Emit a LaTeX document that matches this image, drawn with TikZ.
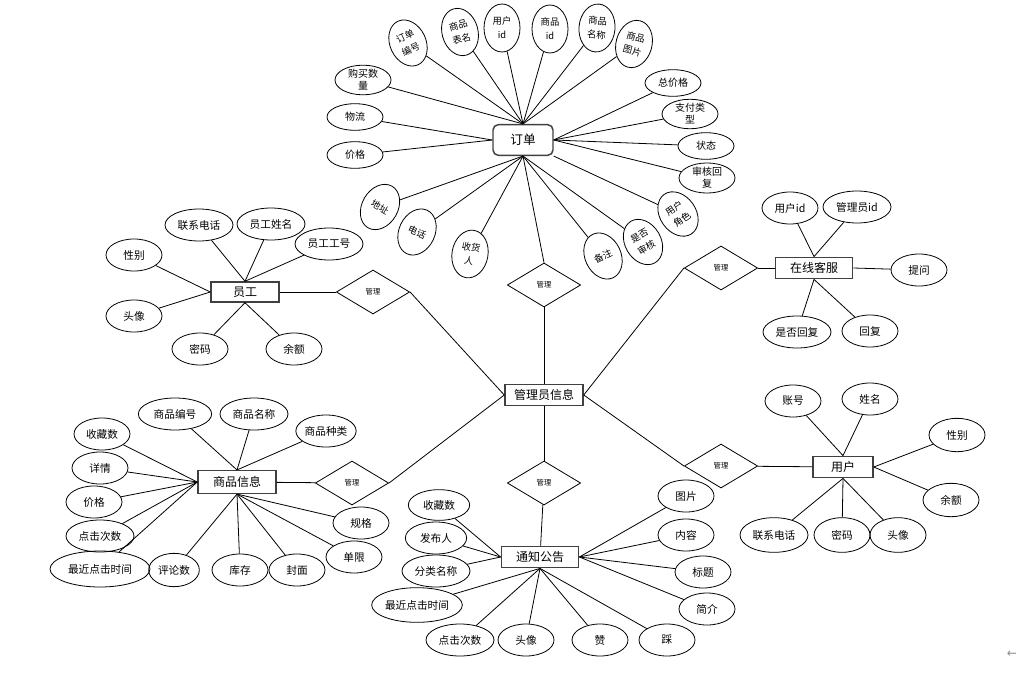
\documentclass[tikz,border=0pt]{standalone}
\usepackage{fontspec}
\setmainfont{Noto Sans CJK SC}
\newfontfamily\symfont{DejaVu Sans}
\usetikzlibrary{shapes.geometric}

\begin{document}
\begin{tikzpicture}[x=0.75pt,y=-0.75pt,line width=0.6pt,
		font=\fontsize{8}{9.5}\selectfont]
		\tikzstyle{every node}=[inner sep=0pt]
		\tikzstyle{entity}=[draw=black!75,line width=1.1pt,rectangle,minimum height=16pt,font=\fontsize{9}{10}\selectfont]
		\tikzstyle{rel}=[draw,diamond,aspect=1.7,minimum width=55pt,minimum height=33pt,font=\fontsize{5.5}{6}\selectfont]
		\tikzstyle{attr}=[draw,ellipse,minimum width=42pt,minimum height=24pt,align=center]
		\tikzstyle{wattr}=[attr,minimum width=51pt]
		\tikzstyle{lattr}=[attr,minimum width=72pt,minimum height=26pt]
		\tikzstyle{sattr}=[attr,minimum height=20pt,font=\fontsize{7.5}{9}\selectfont]
		\tikzstyle{rattr}=[draw,ellipse,minimum width=27pt,minimum height=36pt,align=center,font=\fontsize{7}{10.5}\selectfont]
		\useasboundingbox (0,0) rectangle (1019,674);
		
		% entities
		\node[entity,rounded corners=4pt,minimum width=45pt,minimum height=23pt,font=\fontsize{9.5}{10}\selectfont] (dd) at (523,140) {订单};
		\node[entity,minimum width=51pt,minimum height=15pt] (yg) at (245,292) {员工};
		\node[entity,minimum width=58pt] (zx) at (814,268) {在线客服};
		\node[entity,minimum width=58.5pt] (gly) at (544,395) {管理员信息};
		\node[entity,minimum width=58.5pt,minimum height=17pt] (sp) at (237,482) {商品信息};
		\node[entity,minimum width=58pt] (tz) at (540,557) {通知公告};
		\node[entity,minimum width=45pt] (yh) at (843,467) {用户};
		
		% relations
		\node[rel] (r1) at (373,292) {管理};
		\node[rel] (r2) at (544,285) {管理};
		\node[rel] (r3) at (721,268) {管理};
		\node[rel] (r4) at (352,483) {管理};
		\node[rel] (r5) at (544,483) {管理};
		\node[rel] (r6) at (721,466) {管理};
		
		\path (yg) edge (r1)
		(r1.east) edge (gly.west)
		(dd.south) edge (r2.north)
		(r2) edge (gly)
		(r3.west) edge (gly.east)
		(r3) edge (zx)
		(gly.east) edge (r6.west)
		(r6) edge (yh)
		(gly) edge (r5)
		(r5) edge (tz)
		(gly.west) edge (r4.east)
		(r4) edge (sp);
		
		% order attributes
		\node[rattr,rotate=25] (a1) at (408,43) {订单\\编号};
		\node[rattr,rotate=15] (a2) at (460,32) {商品\\表名};
		\node[rattr] (a3) at (502,28) {用户\\id};
		\node[rattr] (a4) at (550,29) {商品\\id};
		\node[rattr,rotate=-5] (a5) at (597,28) {商品\\名称};
		\node[rattr,rotate=-15] (a6) at (634,44) {商品\\图片};
		\node[sattr] (a7) at (363,80) {购买数\\量};
		\node[sattr] (a8) at (355,117) {物流};
		\node[sattr] (a9) at (355,155) {价格};
		\node[sattr] (a10) at (673,83) {总价格};
		\node[sattr] (a11) at (690,114) {支付类\\型};
		\node[sattr] (a12) at (706,146) {状态};
		\node[sattr] (a13) at (707,178) {审核回\\复};
		\node[rattr,rotate=35] (a14) at (678,214) {用户\\角色};
		\node[rattr,rotate=30] (a15) at (643,242) {是否\\审核};
		\node[rattr,rotate=25] (a16) at (603,256) {备注};
		\node[rattr,rotate=-10] (a17) at (470,254) {收货\\人};
		\node[rattr,rotate=-25] (a18) at (417,232) {电话};
		\node[rattr,rotate=-30] (a19) at (380,207) {地址};
		\path (a1) edge (dd.north) (a2) edge (dd.north) (a3) edge (dd.north)
		(a4) edge (dd.north) (a5) edge (dd.north) (a6) edge (dd.north)
		(a7) edge (dd.north) (a8) edge (dd.west) (a9) edge (dd.west)
		(a10) edge (dd.east) (a11) edge (dd.east) (a12) edge (dd.east)
		(a13) edge (dd.east) (a14) edge (dd.south east) (a15) edge (dd.south)
		(a16) edge (dd.south) (a17) edge (dd.south) (a18) edge (dd.south)
		(a19) edge (dd.south);
		
		% staff attributes
		\node[wattr] (b1) at (199,225) {联系电话};
		\node[wattr] (b2) at (271,224) {员工姓名};
		\node[wattr] (b3) at (329,244) {员工工号};
		\node[attr] (b4) at (134,255) {性别};
		\node[attr] (b5) at (134,316) {头像};
		\node[attr] (b6) at (200,349) {密码};
		\node[attr] (b7) at (294,349) {余额};
		\path (b1) edge (yg.north) (b2) edge (yg.north) (b3) edge (yg.north)
		(b4) edge (yg.west) (b5) edge (yg.west)
		(b6) edge (yg.south) (b7) edge (yg.south);
		
		% service attributes
		\node[attr] (c1) at (790,208) {用户id};
		\node[wattr] (c2) at (857,207) {管理员id};
		\node[attr] (c3) at (919,270) {提问};
		\node[wattr] (c4) at (797,332) {是否回复};
		\node[attr] (c5) at (870,331) {回复};
		\path (c1) edge (zx.north) (c2) edge (zx.north) (c3) edge (zx.east)
		(c4) edge (zx.south) (c5) edge (zx.south);
		
		% goods attributes
		\node[attr,minimum width=55pt] (d1) at (175,414) {商品编号};
		\node[wattr] (d2) at (254,414) {商品名称};
		\node[attr,minimum width=45pt] (d3) at (326,431) {商品种类};
		\node[attr] (d4) at (102,434) {收藏数};
		\node[attr] (d5) at (100,468) {详情};
		\node[attr] (d6) at (94,502) {价格};
		\node[wattr] (d7) at (100,536) {点击次数};
		\node[lattr,minimum width=75pt,minimum height=27pt] (d8) at (100,569) {最近点击时间};
		\node[attr,minimum width=38pt,minimum height=25pt] (d9) at (174,570) {评论数};
		\node[attr] (d10) at (240,570) {库存};
		\node[attr] (d11) at (297,570) {封面};
		\node[attr] (d12) at (361,523) {规格};
		\node[attr] (d13) at (354,557) {单限};
		\path (d1) edge (sp.north) (d2) edge (sp.north) (d3) edge (sp.north)
		(d4) edge (sp.west) (d5) edge (sp.west) (d6) edge (sp.west)
		(d7) edge (sp.west) (d8) edge (sp.west)
		(d9) edge (sp.south) (d10) edge (sp.south) (d11) edge (sp.south)
		(d12) edge (sp.south) (d13) edge (sp.south);
		
		% notice attributes
		\node[attr,minimum width=46pt,minimum height=23pt] (e1) at (439,505) {收藏数};
		\node[attr,minimum width=46pt] (e2) at (436,538) {发布人};
		\node[wattr] (e3) at (436,571) {分类名称};
		\node[lattr,minimum width=68pt] (e4) at (417,605) {最近点击时间};
		\node[wattr] (e5) at (460,640) {点击次数};
		\node[attr] (e6) at (526,640) {头像};
		\node[attr] (e7) at (600,640) {赞};
		\node[attr] (e8) at (667,640) {踩};
		\node[attr] (e9) at (686,496) {图片};
		\node[attr] (e10) at (686,535) {内容};
		\node[attr] (e11) at (703,572) {标题};
		\node[attr] (e12) at (707,609) {简介};
		\path (e1) edge (tz.west) (e2) edge (tz.west) (e3) edge (tz.west)
		(e4) edge (tz.south) (e5) edge (tz.south) (e6) edge (tz.south)
		(e7) edge (tz.south) (e8) edge (tz.south)
		(e9) edge (tz.east) (e10) edge (tz.east) (e11) edge (tz.east)
		(e12) edge (tz.east);
		
		% user attributes
		\node[attr] (f1) at (793,401) {账号};
		\node[attr] (f2) at (870,399) {姓名};
		\node[attr,minimum height=25pt] (f3) at (957,435) {性别};
		\node[attr,minimum height=25pt] (f4) at (951,500) {余额};
		\node[wattr,minimum height=26pt] (f5) at (774,535) {联系电话};
		\node[attr,minimum height=26pt] (f6) at (842,535) {密码};
		\node[attr,minimum height=26pt] (f7) at (898,535) {头像};
		\path (f1) edge (yh.north) (f2) edge (yh.north)
		(f3) edge (yh.east) (f4) edge (yh.east)
		(f5) edge (yh.south) (f6) edge (yh.south) (f7) edge (yh.south);
		
		\node[text=black!45,font=\symfont\fontsize{9}{9}\selectfont] (back) at (1012,654) {←};
\end{tikzpicture}
\end{document}
